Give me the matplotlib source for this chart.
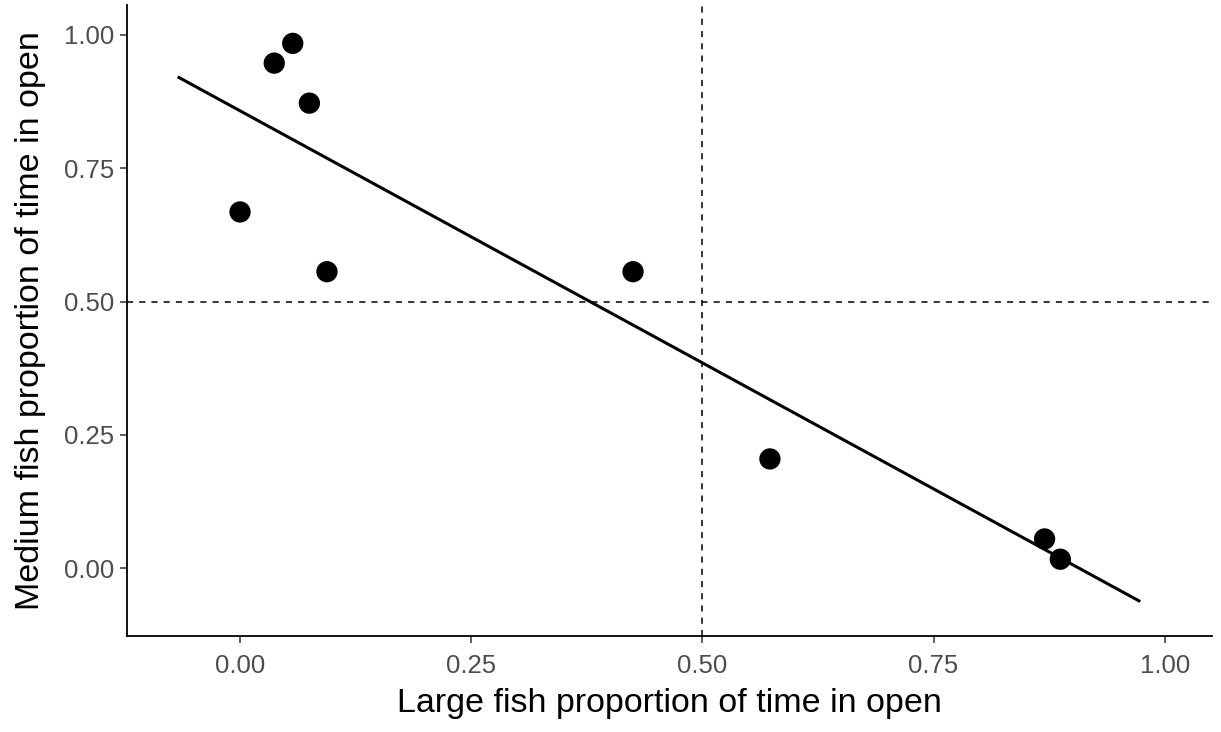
import matplotlib
matplotlib.use("Agg")
import matplotlib.pyplot as plt

plt.rcParams['font.family'] = ['Liberation Sans', 'DejaVu Sans']

# proportion of time spent in the open, per trial
large_open = [0.000, 0.037, 0.057, 0.075, 0.094, 0.425, 0.573, 0.870, 0.887]
medium_open = [0.668, 0.947, 0.984, 0.872, 0.556, 0.556, 0.205, 0.055, 0.017]

# linear fit drawn across the plotted range
fit_x = [-0.066, 0.972]
fit_y = [0.920, -0.061]

ticks = [0.00, 0.25, 0.50, 0.75, 1.00]
tick_labels = ['0.00', '0.25', '0.50', '0.75', '1.00']

fig = plt.figure(figsize=(12.21, 7.32), dpi=100)
ax = fig.add_axes([0.1038, 0.1311, 0.8888, 0.8621])

ax.axhline(0.5, color='black', linestyle=(0, (4, 4)), linewidth=1.1, zorder=1)
ax.axvline(0.5, color='black', linestyle=(0, (4, 4)), linewidth=1.1, zorder=1)
ax.plot(fit_x, fit_y, color='black', linewidth=2.2, zorder=2)
ax.scatter(large_open, medium_open, s=235, color='black', edgecolors='none', zorder=3)

ax.set_xlim(-0.1225, 1.051)
ax.set_ylim(-0.127, 1.056)
ax.set_xticks(ticks)
ax.set_xticklabels(tick_labels)
ax.set_yticks(ticks)
ax.set_yticklabels(tick_labels)

for side in ['top', 'right']:
    ax.spines[side].set_visible(False)
for side in ['left', 'bottom']:
    ax.spines[side].set_linewidth(1.3)
    ax.spines[side].set_color('black')

ax.tick_params(axis='both', length=5, width=1.1, color='#333333',
               labelsize=18.5, labelcolor='#4d4d4d')
ax.tick_params(axis='x', pad=8)
ax.tick_params(axis='y', pad=4)

ax.set_xlabel('Large fish proportion of time in open', fontsize=24.5, labelpad=7)
ax.set_ylabel('Medium fish proportion of time in open', fontsize=24.5, labelpad=13)

fig.savefig('out.png', dpi=100)
